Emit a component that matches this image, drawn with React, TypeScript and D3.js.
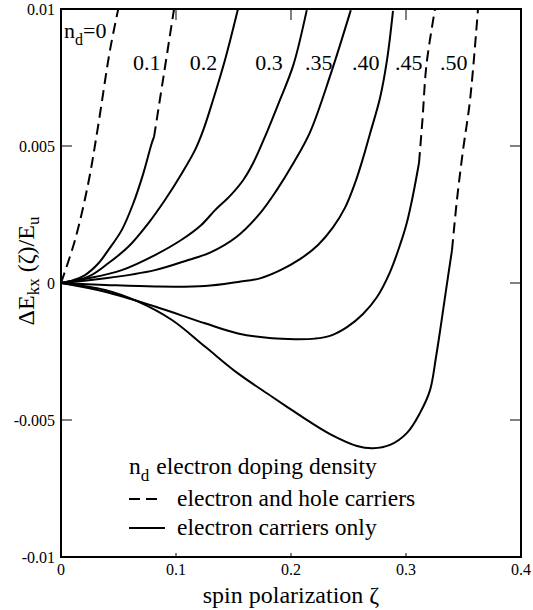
import * as d3 from "d3";

// spin polarization zeta vs exchange energy change
// each curve: solid part (electron carriers only) and dashed part (electron and hole carriers)
type Pt = [number, number];

const nd0Dashed: Pt[] = [
  [0, 0], [0.0122, 0.00157], [0.0237, 0.00364], [0.0317, 0.00558], [0.0426, 0.0085], [0.0498, 0.0100],
];

const nd01Solid: Pt[] = [
  [0, 0], [0.0105, 0.0001], [0.0209, 0.00029], [0.0324, 0.00071], [0.0411, 0.0012], [0.0528, 0.00193],
  [0.0629, 0.00291], [0.0716, 0.004], [0.0789, 0.0051], [0.0809, 0.00533],
];
const nd01Dashed: Pt[] = [[0.0809, 0.00533], [0.0896, 0.00766], [0.0983, 0.0100]];

const nd02Solid: Pt[] = [
  [0, 0], [0.0237, 0.00023], [0.0411, 0.00072], [0.0585, 0.00132], [0.0759, 0.00218], [0.0904, 0.00303],
  [0.105, 0.004], [0.1165, 0.00485], [0.1237, 0.00558], [0.1322, 0.00668], [0.1426, 0.00814], [0.1539, 0.0100],
];

const nd03Solid: Pt[] = [
  [0, 0], [0.0238, 0.00017], [0.0528, 0.00047], [0.0817, 0.00102], [0.1045, 0.00157], [0.122, 0.00212],
  [0.134, 0.00266], [0.147, 0.00318], [0.1585, 0.00376], [0.167, 0.00437], [0.179, 0.0055],
  [0.1904, 0.00668], [0.202, 0.00795], [0.2137, 0.00996],
];

const nd035Solid: Pt[] = [
  [0, 0], [0.0387, 0.00017], [0.0817, 0.00047], [0.1107, 0.00084], [0.1296, 0.00111], [0.1528, 0.00169],
  [0.173, 0.00254], [0.1876, 0.00339], [0.202, 0.00437], [0.2165, 0.0055], [0.234, 0.00756], [0.252, 0.00996],
];

const nd040Solid: Pt[] = [
  [0, 0], [0.0383, -0.00007], [0.0817, -0.00013], [0.1252, -0.00011], [0.154, 0.00004], [0.173, 0.00017],
  [0.1904, 0.00046], [0.2078, 0.00087], [0.2235, 0.00139], [0.2365, 0.00203], [0.247, 0.00275],
  [0.2557, 0.00365], [0.2626, 0.00455], [0.2687, 0.00545], [0.2774, 0.00675], [0.2835, 0.00814], [0.2887, 0.00993],
];

const nd045Solid: Pt[] = [
  [0, 0], [0.0383, -0.00032], [0.0817, -0.00086], [0.1252, -0.00147], [0.1539, -0.00184], [0.1835, -0.00202],
  [0.2035, -0.00205], [0.2209, -0.00203], [0.2339, -0.00193], [0.2487, -0.00161], [0.2626, -0.00113],
  [0.2748, -0.00051], [0.2861, 0.0004], [0.2948, 0.00139], [0.3009, 0.00223], [0.3061, 0.00321], [0.3113, 0.00438],
];
const nd045Dashed: Pt[] = [[0.3113, 0.00438], [0.3143, 0.00595], [0.3178, 0.00796], [0.3252, 0.0100]];

const nd050Solid: Pt[] = [
  [0, 0], [0.0383, -0.000255], [0.067, -0.00068], [0.0965, -0.00135], [0.1252, -0.00232], [0.1539, -0.0033],
  [0.1835, -0.00415], [0.2009, -0.00464], [0.2165, -0.00507], [0.2365, -0.00557], [0.2574, -0.00595],
  [0.2713, -0.00603], [0.2861, -0.00591], [0.3009, -0.00547], [0.3122, -0.00474], [0.3209, -0.00391],
  [0.3261, -0.0027], [0.3304, -0.00153], [0.3348, -0.00026], [0.34, 0.0012],
];
const nd050Dashed: Pt[] = [
  [0.34, 0.0012], [0.3443, 0.00303], [0.3496, 0.00485], [0.3557, 0.00668], [0.3626, 0.0100],
];

const solidSeries: Pt[][] = [nd01Solid, nd02Solid, nd03Solid, nd035Solid, nd040Solid, nd045Solid, nd050Solid];
const dashedSeries: Pt[][] = [nd0Dashed, nd01Dashed, nd045Dashed, nd050Dashed];

// curve labels, positioned in data units (zeta of the label's left edge)
const curveLabels = ["0.1", "0.2", "0.3", ".35", ".40", ".45", ".50"];
const curveLabelZeta = [0.0626, 0.112, 0.169, 0.2122, 0.253, 0.2905, 0.3296];

const xTicks = [0, 0.1, 0.2, 0.3, 0.4];
const xTickLabels = ["0", "0.1", "0.2", "0.3", "0.4"];
const yTicks = [0.01, 0.005, 0, -0.005, -0.01];
const yTickLabels = ["0.01", "0.005", "0", "-0.005", "-0.01"];

const W = 533;
const H = 610;
const margin = { top: 9, right: 12, bottom: 53, left: 61 };
const serif = { fontFamily: "Liberation Serif" };

export default function App() {
  const x = d3.scaleLinear().domain([0, 0.4]).range([margin.left, W - margin.right]);
  const y = d3.scaleLinear().domain([-0.01, 0.01]).range([H - margin.bottom, margin.top]);
  const line = d3
    .line<Pt>()
    .x((d) => x(d[0]))
    .y((d) => y(d[1]))
    .curve(d3.curveCatmullRom.alpha(0.5));

  const [x0, x1] = x.range();
  const [yb, yt] = y.range();
  const tickColor = "#808080";

  return (
    <svg width={W} height={H} style={{ position: "absolute", left: 0, top: 0, background: "#fff" }}>
      <defs>
        <clipPath id="plot">
          <rect x={x0} y={yt} width={x1 - x0} height={yb - yt} />
        </clipPath>
      </defs>

      {/* ticks */}
      {xTicks.slice(1, -1).map((t) => (
        <g key={"xt" + t} stroke={tickColor} strokeWidth={2}>
          <line x1={x(t)} x2={x(t)} y1={yt} y2={yt + 11} />
          <line x1={x(t)} x2={x(t)} y1={yb} y2={yb - 4} />
        </g>
      ))}
      {yTicks.slice(1, -1).map((t) => (
        <g key={"yt" + t} stroke={tickColor} strokeWidth={2}>
          <line x1={x0} x2={x0 + 11} y1={y(t)} y2={y(t)} />
          <line x1={x1} x2={x1 - 11} y1={y(t)} y2={y(t)} />
        </g>
      ))}

      <g clipPath="url(#plot)" fill="none" stroke="#000" strokeWidth={2} strokeLinejoin="round">
        {solidSeries.map((s, i) => (
          <path key={"s" + i} d={line(s) ?? ""} />
        ))}
        {dashedSeries.map((s, i) => (
          <path key={"d" + i} d={line(s) ?? ""} strokeDasharray="11,6" />
        ))}
      </g>

      <rect x={x0} y={yt} width={x1 - x0} height={yb - yt} fill="none" stroke="#000" strokeWidth={2} />

      {/* tick labels */}
      {xTicks.map((t, i) => (
        <text key={"xl" + t} x={x(t)} y={yb + 18} fontSize={16} textAnchor="middle" style={serif}>
          {xTickLabels[i]}
        </text>
      ))}
      {yTicks.map((t, i) => (
        <text key={"yl" + t} x={x0 - 6} y={y(t)} dy="0.35em" fontSize={16} textAnchor="end" style={serif}>
          {yTickLabels[i]}
        </text>
      ))}

      {/* axis titles */}
      <text x={(x0 + x1) / 2} y={H - 7} fontSize={24} textAnchor="middle" style={serif}>
        spin polarization ζ
      </text>
      <text
        transform={`translate(34,${(yt + yb) / 2 - 12}) rotate(-90)`}
        fontSize={24}
        textAnchor="middle"
        style={serif}
      >
        ΔE
        <tspan fontSize={17} dy={5}>kx</tspan>
        <tspan dy={-5}> (ζ)/E</tspan>
        <tspan fontSize={17} dy={5}>u</tspan>
      </text>

      {/* curve labels */}
      <text x={x0 + 3} y={38} fontSize={22} style={serif}>
        n<tspan fontSize={16} dy={7}>d</tspan>
        <tspan dy={-7}>=0</tspan>
      </text>
      {curveLabels.map((l, i) => (
        <text key={"cl" + l} x={x(curveLabelZeta[i])} y={70} fontSize={22} style={serif}>
          {l}
        </text>
      ))}

      {/* legend */}
      <text x={129} y={474} fontSize={23.5} style={serif}>
        n<tspan fontSize={17} dy={7}>d</tspan>
        <tspan dy={-7} dx={7}>electron doping density</tspan>
      </text>
      <line x1={129} x2={157} y1={499} y2={499} stroke="#000" strokeWidth={2} strokeDasharray="11,6" />
      <text x={177} y={506} fontSize={23.5} style={serif}>electron and hole carriers</text>
      <line x1={129} x2={165} y1={528} y2={528} stroke="#000" strokeWidth={2} />
      <text x={177} y={535} fontSize={23.5} style={serif}>electron carriers only</text>
    </svg>
  );
}
